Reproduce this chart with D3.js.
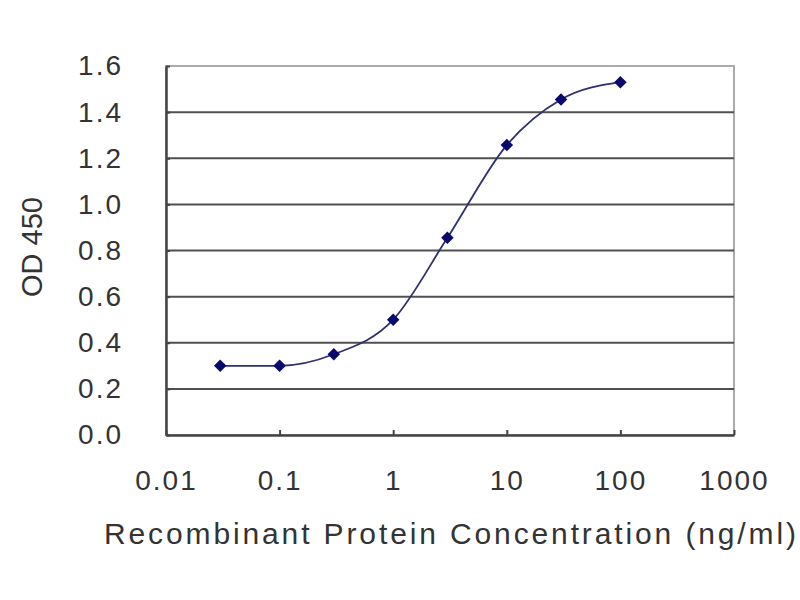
<!DOCTYPE html>
<html>
<head>
<meta charset="utf-8">
<script src="https://cdn.jsdelivr.net/npm/d3@7"></script>
<style>
  body { margin: 0; background: #fff; }
  text { font-family: "Liberation Sans", Arial, sans-serif; fill: #333; }
</style>
</head>
<body>
<div id="chart"></div>
<script>
// Data
const concentrations = [0.03, 0.1, 0.3, 1, 3, 10, 30, 100];
const odValues = [0.30, 0.30, 0.35, 0.50, 0.855, 1.257, 1.455, 1.53];
const xTicks = [0.01, 0.1, 1, 10, 100, 1000];
const xTickLabels = ["0.01", "0.1", "1", "10", "100", "1000"];
const yTicks = [0, 0.2, 0.4, 0.6, 0.8, 1.0, 1.2, 1.4, 1.6];

// Plot constants
const MARGIN = { LEFT: 166, RIGHT: 66, TOP: 66, BOTTOM: 165 };
const WIDTH = 800 - MARGIN.LEFT - MARGIN.RIGHT;
const HEIGHT = 600 - MARGIN.TOP - MARGIN.BOTTOM;

const svg = d3.select("#chart")
  .append("svg")
  .attr("width", 800)
  .attr("height", 600);

const g = svg.append("g")
  .attr("transform", "translate(" + MARGIN.LEFT + "," + MARGIN.TOP + ")");

// Scales
const x = d3.scaleLog()
  .domain([0.01, 1000])
  .range([0, WIDTH]);

const y = d3.scaleLinear()
  .domain([0, 1.6])
  .range([HEIGHT, 0]);

// Plot frame (top/right lighter)
g.append("rect")
  .attr("width", WIDTH)
  .attr("height", HEIGHT)
  .attr("fill", "#fff")
  .attr("stroke", "#ababab")
  .attr("stroke-width", 2);

// Gridlines
g.append("g")
  .selectAll("line")
  .data(yTicks.filter((d) => d > 0 && d < 1.6))
  .join("line")
  .attr("x1", 0)
  .attr("x2", WIDTH)
  .attr("y1", (d) => y(d))
  .attr("y2", (d) => y(d))
  .attr("stroke", "#505050")
  .attr("stroke-width", 2);

// Axes
const xAxis = g.append("g")
  .attr("transform", "translate(0," + HEIGHT + ")")
  .call(d3.axisBottom(x)
    .tickValues(xTicks)
    .tickFormat((d, i) => xTickLabels[i])
    .tickSizeInner(-5)
    .tickSizeOuter(0)
    .tickPadding(35));

const yAxis = g.append("g")
  .call(d3.axisLeft(y)
    .tickValues(yTicks)
    .tickFormat(d3.format(".1f"))
    .tickSizeInner(-4)
    .tickSizeOuter(0)
    .tickPadding(43));

[xAxis, yAxis].forEach((ax) => {
  ax.select(".domain").attr("stroke", "#444").attr("stroke-width", 2.5);
  ax.selectAll(".tick line").attr("stroke", "#444").attr("stroke-width", 2);
  ax.selectAll(".tick text")
    .attr("font-family", "Liberation Sans, Arial, sans-serif")
    .attr("font-size", 28)
    .attr("letter-spacing", 2)
    .attr("fill", "#333");
});

// Axis labels
svg.append("text")
  .attr("text-anchor", "middle")
  .attr("dominant-baseline", "central")
  .attr("transform", "translate(" + 32 + "," + 247 + ")rotate(-90)")
  .attr("font-size", 29)
  .text("OD 450");

svg.append("text")
  .attr("text-anchor", "middle")
  .attr("x", 450)
  .attr("y", 544)
  .attr("font-size", 30)
  .attr("textLength", 692)
  .attr("lengthAdjust", "spacing")
  .text("Recombinant Protein Concentration (ng/ml)");

// Curve
const line = d3.line()
  .x((d, i) => x(concentrations[i]))
  .y((d) => y(d))
  .curve(d3.curveMonotoneX);

g.append("path")
  .datum(odValues)
  .attr("fill", "none")
  .attr("stroke", "#30306e")
  .attr("stroke-width", 1.8)
  .attr("d", line);

// Diamond markers
g.selectAll(".point")
  .data(odValues)
  .join("path")
  .attr("class", "point")
  .attr("d", d3.symbol(d3.symbolDiamond2, 100))
  .attr("transform", (d, i) => "translate(" + x(concentrations[i]) + "," + y(d) + ")")
  .attr("fill", "#0a0a6e");
</script>
</body>
</html>
